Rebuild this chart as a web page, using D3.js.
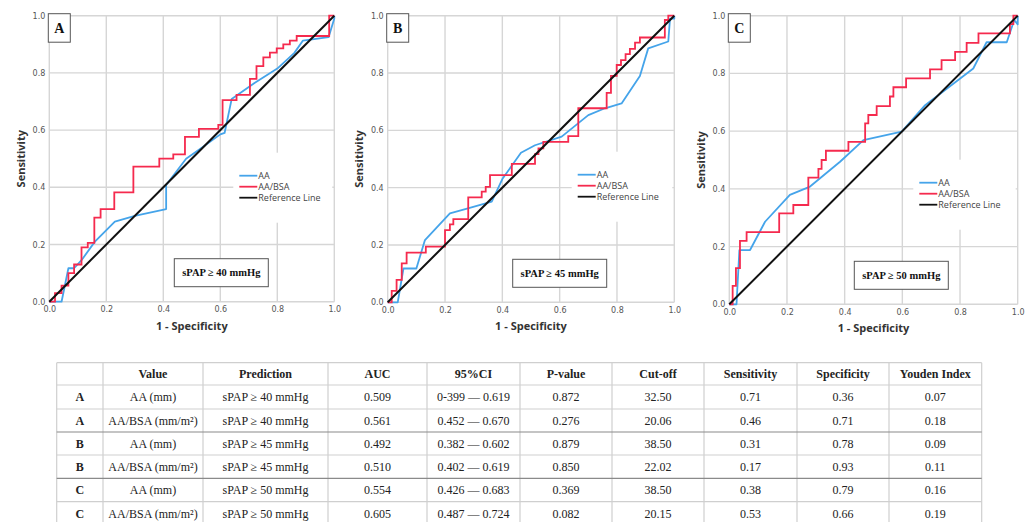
<!DOCTYPE html>
<html>
<head>
<meta charset="utf-8">
<script src="https://cdn.jsdelivr.net/npm/d3@7"></script>
<style>
  body { margin: 0; background: #fff; }
  svg { display: block; }
  .tick-lbl { font-family: "DejaVu Sans", sans-serif; font-size: 8px; fill: #555; }
  .axis-lbl { font-family: "Open Sans", sans-serif; font-size: 11px; font-weight: 700; fill: #333; }
  .legend-lbl { font-family: "Open Sans", sans-serif; font-size: 9px; fill: #444; }
  .panel-lbl { font-family: "Liberation Serif", serif; font-size: 14px; font-weight: 700; fill: #111; }
  .cond-lbl { font-family: "Liberation Serif", serif; font-size: 10.5px; font-weight: 700; fill: #111; }
  .tbl { font-family: "Liberation Serif", serif; font-size: 12px; fill: #222; }
  .tbl-h { font-weight: 700; }
</style>
</head>
<body>
<svg id="fig" width="1031" height="522"></svg>
<script>
// ── Data ────────────────────────────────────────────────────────────────────
const PANEL_NAMES = ["A", "B", "C"];
const CONDITIONS  = ["sPAP ≥ 40 mmHg", "sPAP ≥ 45 mmHg", "sPAP ≥ 50 mmHg"];
const TICKS       = [0, 0.2, 0.4, 0.6, 0.8, 1.0];
const SERIES      = ["AA", "AA/BSA", "Reference Line"];

// AA curves (SPSS joins tied points with straight segments)
const AA_A = [[0,0],[0.043,0],[0.067,0.117],[0.087,0.117],[0.113,0.145],[0.16,0.21],[0.23,0.28],[0.30,0.30],[0.41,0.324],[0.41,0.408],[0.48,0.50],[0.53,0.535],[0.60,0.585],[0.615,0.59],[0.64,0.709],[0.72,0.765],[0.80,0.815],[0.86,0.87],[0.89,0.913],[0.98,0.925],[1,0.99],[1,1]];
const AA_B = [[0,0],[0.035,0],[0.055,0.118],[0.10,0.118],[0.13,0.217],[0.217,0.31],[0.28,0.328],[0.363,0.351],[0.40,0.43],[0.465,0.522],[0.514,0.548],[0.607,0.578],[0.70,0.653],[0.758,0.677],[0.816,0.694],[0.88,0.79],[0.909,0.886],[0.979,0.91],[0.985,0.99],[1,0.99],[1,1]];
const AA_C = [[0,0],[0.025,0],[0.035,0.188],[0.072,0.188],[0.124,0.286],[0.21,0.379],[0.28,0.408],[0.384,0.494],[0.465,0.569],[0.598,0.598],[0.679,0.69],[0.846,0.817],[0.892,0.908],[0.962,0.908],[0.988,0.985],[1,0.97],[1,1]];

// AA/BSA curves: [1 - specificity where the step happens, sensitivity after it]
const BSA_A = [[0,0],[0.02,0.03],[0.043,0.056],[0.067,0.10],[0.087,0.13],[0.113,0.19],[0.135,0.206],[0.158,0.294],[0.18,0.324],[0.228,0.382],[0.295,0.472],[0.386,0.50],[0.435,0.515],[0.476,0.576],[0.525,0.604],[0.593,0.618],[0.608,0.705],[0.657,0.723],[0.704,0.779],[0.727,0.824],[0.751,0.854],[0.774,0.871],[0.798,0.886],[0.821,0.90],[0.844,0.913],[0.868,0.929],[0.982,1.0],[1,1]];
const BSA_B = [[0,0],[0.014,0.04],[0.031,0.078],[0.049,0.136],[0.066,0.173],[0.133,0.194],[0.2,0.252],[0.217,0.272],[0.229,0.29],[0.281,0.366],[0.328,0.386],[0.342,0.403],[0.357,0.444],[0.433,0.483],[0.514,0.517],[0.526,0.537],[0.543,0.56],[0.630,0.58],[0.665,0.677],[0.764,0.731],[0.779,0.79],[0.799,0.828],[0.814,0.845],[0.830,0.866],[0.845,0.884],[0.863,0.906],[0.880,0.924],[0.967,0.985],[0.979,1.0],[1,1]];
const BSA_C = [[0,0],[0.0116,0.064],[0.023,0.125],[0.037,0.22],[0.060,0.25],[0.173,0.315],[0.222,0.344],[0.274,0.439],[0.309,0.469],[0.320,0.50],[0.335,0.532],[0.413,0.563],[0.471,0.627],[0.482,0.656],[0.511,0.687],[0.557,0.72],[0.569,0.752],[0.613,0.783],[0.696,0.814],[0.736,0.846],[0.783,0.875],[0.823,0.906],[0.864,0.939],[0.973,0.971],[0.985,1.0],[1,1]];

const REF_LINE = [[0,0],[1,1]];

// Table
const COLUMNS     = ["", "Value", "Prediction", "AUC", "95%CI", "P-value", "Cut-off", "Sensitivity", "Specificity", "Youden Index"];
const ROW_PANEL   = ["A", "A", "B", "B", "C", "C"];
const ROW_VALUE   = ["AA (mm)", "AA/BSA (mm/m²)", "AA (mm)", "AA/BSA (mm/m²)", "AA (mm)", "AA/BSA (mm/m²)"];
const ROW_PRED    = ["sPAP ≥ 40 mmHg", "sPAP ≥ 40 mmHg", "sPAP ≥ 45 mmHg", "sPAP ≥ 45 mmHg", "sPAP ≥ 50 mmHg", "sPAP ≥ 50 mmHg"];
const ROW_AUC     = ["0.509", "0.561", "0.492", "0.510", "0.554", "0.605"];
const ROW_CI      = ["0-399 — 0.619", "0.452 — 0.670", "0.382 — 0.602", "0.402 — 0.619", "0.426 — 0.683", "0.487 — 0.724"];
const ROW_P       = ["0.872", "0.276", "0.879", "0.850", "0.369", "0.082"];
const ROW_CUT     = ["32.50", "20.06", "38.50", "22.02", "38.50", "20.15"];
const ROW_SENS    = ["0.71", "0.46", "0.31", "0.17", "0.38", "0.53"];
const ROW_SPEC    = ["0.36", "0.71", "0.78", "0.93", "0.79", "0.66"];
const ROW_YOUDEN  = ["0.07", "0.18", "0.09", "0.11", "0.16", "0.19"];

// ── Layout / style ──────────────────────────────────────────────────────────
const COLORS = { AA: "#45a4ea", BSA: "#f52a4e", REF: "#111" };
const PANELS = [
  { x: 49.3,  y: 15.7, w: 285,   h: 286,   legY: 160, aa: AA_A, bsa: BSA_A },
  { x: 387.7, y: 15.7, w: 286.6, h: 286.6, legY: 159, aa: AA_B, bsa: BSA_B },
  { x: 729.3, y: 15.7, w: 288.4, h: 288.6, legY: 167, aa: AA_C, bsa: BSA_C },
];

const svg = d3.select("#fig");
svg.append("rect").attr("width", 1031).attr("height", 522).attr("fill", "#fff");

PANELS.forEach((p, i) => {
  const g = svg.append("g").attr("transform", `translate(${p.x},${p.y})`);
  const x = d3.scaleLinear().domain([0, 1]).range([0, p.w]);
  const y = d3.scaleLinear().domain([0, 1]).range([p.h, 0]);

  // Grid + frame
  g.append("g").selectAll("line").data(TICKS).join("line")
    .attr("x1", d => x(d)).attr("x2", d => x(d)).attr("y1", 0).attr("y2", p.h)
    .attr("stroke", "#d6d6d6").attr("stroke-width", 1.4);
  g.append("g").selectAll("line").data(TICKS).join("line")
    .attr("y1", d => y(d)).attr("y2", d => y(d)).attr("x1", 0).attr("x2", p.w)
    .attr("stroke", "#d6d6d6").attr("stroke-width", 1.4);

  // Axes (labels only, no tick marks)
  const xAx = g.append("g").attr("transform", `translate(0,${p.h})`)
    .call(d3.axisBottom(x).tickValues(TICKS).tickFormat(d3.format(".1f")).tickSize(0).tickPadding(5));
  const yAx = g.append("g")
    .call(d3.axisLeft(y).tickValues(TICKS).tickFormat(d3.format(".1f")).tickSize(0).tickPadding(4));
  [xAx, yAx].forEach(a => {
    a.select(".domain").remove();
    a.attr("font-size", null).attr("font-family", null);
    a.selectAll("text").attr("class", "tick-lbl").attr("fill", null);
  });

  // Axis titles
  g.append("text").attr("class", "axis-lbl")
    .attr("x", p.w / 2).attr("y", p.h + 28).attr("text-anchor", "middle").text("1 - Specificity");
  g.append("text").attr("class", "axis-lbl")
    .attr("transform", "rotate(-90)")
    .attr("x", -p.h / 2).attr("y", -24.5).attr("text-anchor", "middle").text("Sensitivity");

  // Legend background (hides grid) + entries
  g.append("rect").attr("x", 184).attr("y", p.legY - 23).attr("width", p.w - 186).attr("height", 70).attr("fill", "#fff");
  const leg = g.append("g").attr("transform", `translate(190,${p.legY})`);
  [COLORS.AA, COLORS.BSA, COLORS.REF].forEach((c, k) => {
    const row = leg.append("g").attr("transform", `translate(0,${k * 11})`);
    row.append("line").attr("x2", 18).attr("stroke", c).attr("stroke-width", 1.8);
    row.append("text").attr("class", "legend-lbl").attr("x", 19).attr("dy", "0.35em").text(SERIES[k]);
  });

  // Curves
  const line = d3.line().x(d => x(d[0])).y(d => y(d[1]));
  g.append("path").datum(p.aa).attr("fill", "none").attr("stroke", COLORS.AA)
    .attr("stroke-width", 1.8).attr("stroke-linejoin", "round").attr("d", line);
  g.append("path").datum(p.bsa).attr("fill", "none").attr("stroke", COLORS.BSA)
    .attr("stroke-width", 1.8).attr("d", line.curve(d3.curveStepAfter));
  g.append("path").datum(REF_LINE).attr("fill", "none").attr("stroke", COLORS.REF)
    .attr("stroke-width", 2).attr("d", d3.line().x(d => x(d[0])).y(d => y(d[1])));

  // Panel letter box
  g.append("rect").attr("x", -1).attr("y", -2).attr("width", 22).attr("height", 28.5)
    .attr("fill", "#fff").attr("stroke", "#555").attr("stroke-width", 1);
  g.append("text").attr("class", "panel-lbl").attr("x", 10).attr("y", 12.5)
    .attr("dy", "0.35em").attr("text-anchor", "middle").text(PANEL_NAMES[i]);

  // Condition box
  g.append("rect").attr("x", 125).attr("y", p.h - 43).attr("width", 94).attr("height", 28)
    .attr("fill", "#fff").attr("stroke", "#555").attr("stroke-width", 1);
  g.append("text").attr("class", "cond-lbl").attr("x", 172).attr("y", p.h - 29)
    .attr("dy", "0.35em").attr("text-anchor", "middle").text(CONDITIONS[i]);
});

// ── Table ──────────────────────────────────────────────────────────────────
const COL_X = [56.7, 103, 203, 328, 427, 520, 612, 704, 797, 889, 981.7];
const ROW_Y = [362.7, 385, 409, 432, 455, 478.3, 501.7, 525];
const tbl = svg.append("g");
const rows = ROW_PANEL.map((p, r) => [p, ROW_VALUE[r], ROW_PRED[r], ROW_AUC[r], ROW_CI[r], ROW_P[r], ROW_CUT[r], ROW_SENS[r], ROW_SPEC[r], ROW_YOUDEN[r]]);

tbl.selectAll("line.col").data(COL_X).join("line")
  .attr("x1", d => d).attr("x2", d => d).attr("y1", ROW_Y[0]).attr("y2", ROW_Y[ROW_Y.length - 1])
  .attr("stroke", "#cfcfcf").attr("stroke-width", 1.2);
tbl.selectAll("line.row").data(ROW_Y).join("line")
  .attr("x1", COL_X[0]).attr("x2", COL_X[COL_X.length - 1]).attr("y1", d => d).attr("y2", d => d)
  .attr("stroke", (d, i) => (i === 3 || i === 5) ? "#8a8a8a" : "#cfcfcf").attr("stroke-width", 1.2);

COLUMNS.forEach((c, j) => {
  tbl.append("text").attr("class", "tbl tbl-h")
    .attr("x", (COL_X[j] + COL_X[j + 1]) / 2).attr("y", (ROW_Y[0] + ROW_Y[1]) / 2)
    .attr("dy", "0.35em").attr("text-anchor", "middle").text(c);
});
rows.forEach((row, r) => {
  row.forEach((v, j) => {
    tbl.append("text").attr("class", j === 0 ? "tbl tbl-h" : "tbl")
      .attr("x", (COL_X[j] + COL_X[j + 1]) / 2).attr("y", (ROW_Y[r + 1] + ROW_Y[r + 2]) / 2)
      .attr("dy", "0.35em").attr("text-anchor", "middle").text(v);
  });
});
</script>
</body>
</html>
